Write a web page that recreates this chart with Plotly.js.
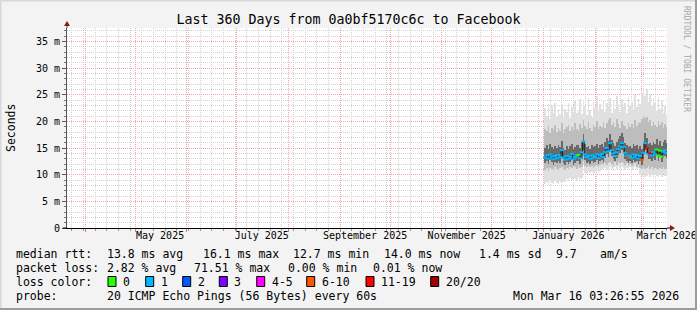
<!DOCTYPE html>
<html><head><meta charset="utf-8">
<script src="https://cdn.plot.ly/plotly-3.0.1.min.js"></script>
<style>html,body{margin:0;padding:0;background:#f3f3f3}#chart{width:697px;height:310px}</style>
</head><body><div id="chart"></div>
<script>
// ---------- data ----------
const firstDay = '2026-01-02';
const rangeStart = '2025-03-21 03:26:55';
const rangeEnd = '2026-03-16 03:26:55';

const median = [
 13.2,13.6,13.0,13.8,13.4,12.9,13.5,13.1,13.7,13.3,14.6,13.2,12.8,
 13.5,13.0,13.4,13.9,12.9,13.3,13.6,13.7,13.1,14.2,
 16.2,
 13.8,13.3,13.5,13.0,13.6,13.2,13.4,13.8,13.1,13.6,
 13.9,13.3,14.2,15.0,14.4,15.9,14.6,14.0,13.5,14.2,14.8,15.3,15.9,15.2,14.1,13.6,13.2,13.5,13.1,13.8,13.4,13.7,13.0,
 13.5,12.8,14.1,15.9,15.0,13.9,14.0,13.6,14.2,13.8,14.7,13.6,14.5,13.4,14.3,14.6,14.1];

const lossClass = [
 '1','1','1','1','1','1','1','1','1','1','1','1','1',
 '1','1','1','1','1','1','1','0','1','1',
 '1',
 '1','1','1','1','1','1','1','1','1','1',
 '1','1','1','1','1','1','1','1','1','1','1','1','1','1','1','1','6-10','1','1','1','1','1','1',
 '1','6-10','1','1','11-19','1','11-19','1','1','1','0','0','0','0','1','1','1'];

const minRtt = [
 8.3,8.6,8.1,8.8,8.4,8.2,8.9,8.5,8.3,8.7,8.4,9.0,8.6,
 9.1,8.9,9.3,9.0,9.4,9.2,8.9,9.5,9.1,9.3,
 12.0,
 10.4,10.2,10.6,10.3,10.5,10.1,10.4,10.6,10.3,10.7,
 11.0,10.8,11.3,10.9,11.2,11.5,11.1,10.7,11.4,11.0,11.6,11.3,11.5,11.2,10.9,11.3,11.0,11.4,10.8,11.1,11.5,10.9,11.2,
 10.0,9.7,10.2,9.5,9.8,10.1,9.6,9.9,9.4,10.0,9.7,9.5,9.9,9.6,10.1,9.8,9.7];

const loBand = [
 10.9,11.2,10.7,11.3,11.0,10.8,11.4,11.1,10.9,11.2,11.5,11.0,10.8,
 11.3,11.1,11.5,11.2,11.6,11.4,11.0,11.7,11.3,11.5,
 12.6,
 11.6,11.4,11.8,11.5,11.7,11.3,11.6,11.9,11.5,11.8,
 12.0,11.8,12.2,11.9,12.1,12.4,12.0,11.7,12.3,11.9,12.4,12.2,12.3,12.1,11.8,12.2,11.7,12.0,11.6,11.9,12.2,11.5,11.8,
 11.2,11.0,11.5,11.1,11.3,11.6,11.0,11.4,10.9,11.3,11.1,10.8,11.2,11.0,11.4,11.1,11.0];

const coreLo = [
 12.2,12.5,12.0,12.7,12.3,11.9,12.4,12.1,12.6,12.2,13.4,12.1,11.8,
 12.4,12.0,12.3,12.8,11.9,12.2,12.5,12.6,12.0,13.0,
 14.6,
 12.7,12.2,12.4,12.0,12.5,12.1,12.3,12.7,12.0,12.5,
 12.8,12.3,13.1,13.8,13.3,14.6,13.5,12.9,12.5,13.1,13.7,14.1,14.7,14.0,13.0,12.6,12.2,12.5,12.1,12.7,12.4,12.6,12.0,
 12.5,11.8,13.0,14.6,13.9,12.9,13.0,12.6,13.1,12.8,13.6,12.6,13.4,12.4,13.2,13.5,13.1];

const coreHi = [
 15.0,15.5,14.9,15.7,15.2,14.8,15.4,15.0,15.6,15.1,16.4,15.0,14.7,
 15.4,14.9,15.3,15.8,14.8,15.2,15.5,15.6,15.0,16.1,
 17.6,
 15.7,15.2,15.4,14.9,15.5,15.1,15.3,15.7,15.0,15.5,
 15.8,15.2,16.1,16.9,16.3,17.7,16.5,15.9,15.4,16.1,16.7,17.2,17.8,17.1,16.0,15.5,15.1,15.4,15.0,15.7,15.3,15.6,14.9,
 15.4,14.8,16.0,17.8,16.9,15.8,15.9,15.5,16.1,15.7,16.6,15.5,16.4,15.3,16.2,16.5,16.0];

const hiBand = [
 18.6,18.1,19.2,17.9,18.8,18.3,19.4,18.0,18.7,18.2,19.6,17.8,18.5,
 18.9,19.3,18.2,19.0,18.4,19.7,18.6,18.1,19.5,18.8,
 20.3,
 19.1,18.5,19.8,18.7,18.2,19.4,18.9,20.1,18.6,19.2,
 19.0,19.9,18.8,19.6,20.2,20.6,19.3,19.8,18.9,20.4,19.5,18.7,20.0,19.4,19.1,18.6,19.7,19.0,19.5,18.8,20.3,19.2,19.9,
 19.6,20.5,21.0,20.7,20.9,19.8,20.2,19.1,19.9,19.4,18.9,20.1,19.3,19.8,18.7,19.5,19.0];

const maxRtt = [
 22.5,21.0,23.2,20.4,22.8,21.6,23.5,20.9,22.1,21.4,23.0,20.6,22.4,
 21.8,23.4,20.7,22.6,21.2,23.8,21.5,22.0,24.1,21.3,
 23.6,
 22.9,21.1,24.3,22.2,20.8,23.7,22.5,24.6,21.9,23.3,
 22.4,24.0,21.7,23.5,22.8,24.4,21.6,23.9,22.3,24.7,23.1,21.8,24.2,22.6,23.4,21.5,24.5,22.9,23.6,21.9,25.0,22.7,24.1,
 23.2,25.4,26.3,24.8,26.0,23.7,25.1,22.8,24.4,23.5,21.9,24.6,22.3,23.8,21.6,22.9,21.2];

const yTickVals = [0,5,10,15,20,25,30,35];
const yTickText = ['0','5 m','10 m','15 m','20 m','25 m','30 m','35 m'];
const xLabelDates = ['2025-05-16','2025-07-16','2025-09-16','2025-11-16','2026-01-16','2026-03-16'];
const xLabelText = ['May 2025','July 2025','September 2025','November 2025','January 2026','March 2026'];

const lossLabels = ['0','1','2','3','4-5','6-10','11-19','20/20'];
const lossColors = ['#26ff00','#00b8ff','#0059ff','#7e00ff','#ff00ff','#ff5500','#ff0000','#a00000'];

const legendRows = [
 ['median rtt:', '13.8 ms avg', '16.1 ms max', '12.7 ms min', '14.0 ms now', '1.4 ms sd', '9.7', 'am/s'],
 ['packet loss:', '2.82 % avg', '71.51 % max', '0.00 % min', '0.01 % now'],
 ['loss color:'],
 ['probe:', '20 ICMP Echo Pings (56 Bytes) every 60s', 'Mon Mar 16 03:26:55 2026']
];

// ---------- layout helpers ----------
const W = 697, H = 310, L = 67, R = 667, T = 28, B = 228;
const px = x => (x - L) / (R - L);
const py = y => (B - y) / (B - T);
const MONO = 'DejaVu Sans Mono';

const dates = [];
{
  const d0 = new Date(firstDay + 'T00:00:00Z');
  for (let i = 0; i < median.length; i++) {
    const d = new Date(d0.getTime() + i * 86400000);
    dates.push(d.toISOString().slice(0, 10));
  }
}
const colorOf = c => lossColors[lossLabels.indexOf(c)];

function band(lo, hi, color) {
  return {type: 'bar', x: dates, base: lo, y: hi.map((v, i) => v - lo[i]),
    width: 86400000, marker: {color: color, line: {width: 0}},
    hoverinfo: 'skip', showlegend: false};
}

const traces = [
  band(minRtt, maxRtt, '#e0e0e0'),
  band(loBand, hiBand, '#bdbdbd'),
  band(coreLo, coreHi, '#6a6a6a'),
  {type: 'scatter', mode: 'lines', x: dates, y: median, line: {color: '#1c1c1c', width: 1, shape: 'hvh'},
   hoverinfo: 'skip', showlegend: false},
  {type: 'scatter', mode: 'markers', x: dates, y: median,
   marker: {symbol: 'line-ew', size: 3, line: {width: 2, color: lossClass.map(colorOf)}},
   hoverinfo: 'skip', showlegend: false},
  {type: 'scatter', mode: 'markers', x: [dates[0]], y: [null], xaxis: 'x2', hoverinfo: 'skip', showlegend: false}
];

const ann = [];
function txt(x, y, t, opts) {
  ann.push(Object.assign({xref: 'paper', yref: 'paper', x: px(x), y: py(y), text: t, showarrow: false,
    xanchor: 'left', yanchor: 'middle', borderpad: 0, borderwidth: 0,
    font: {family: MONO, size: 11.5, color: '#000'}}, opts || {}));
}
const rowY = [254, 268, 282, 296];
const rowX = [
  [16, 107, 203, 293, 384, 479, 556, 600],
  [16, 107, 194, 288, 373],
  [16],
  [16, 107, 513]
];
legendRows.forEach((row, r) => row.forEach((t, k) => txt(rowX[r][k], rowY[r], t)));

const shapes = [];
const boxX = [108, 145.7, 182.7, 219.3, 256.7, 306.7, 366, 430.7];
lossLabels.forEach((lab, k) => {
  shapes.push({type: 'rect', xref: 'paper', yref: 'paper', x0: px(boxX[k]), x1: px(boxX[k] + 8),
    y0: py(286.5), y1: py(276.5), fillcolor: lossColors[k], line: {color: '#000', width: 1}});
  txt(boxX[k] + 15, rowY[2], lab);
});

// y title + watermark
ann.push({xref: 'paper', yref: 'paper', x: px(11), y: py(128), text: 'Seconds', textangle: -90,
  showarrow: false, xanchor: 'center', yanchor: 'middle', font: {family: MONO, size: 11.5, color: '#000'}});
ann.push({xref: 'paper', yref: 'paper', x: px(687), y: py(59), text: 'RRDTOOL / TOBI OETIKER', textangle: 90,
  showarrow: false, xanchor: 'center', yanchor: 'middle', font: {family: MONO, size: 8, color: '#a8a8a8'}});

// axis arrows
shapes.push({type: 'line', xref: 'paper', yref: 'paper', x0: 0, x1: 0, y0: 1, y1: py(24), line: {color: '#555', width: 1}});
shapes.push({type: 'path', xref: 'paper', yref: 'paper',
  path: `M ${px(67)} ${py(21)} L ${px(64)} ${py(26)} L ${px(70)} ${py(26)} Z`, fillcolor: '#8b1a1a', line: {width: 0}});
shapes.push({type: 'line', xref: 'paper', yref: 'paper', x0: 1, x1: px(671), y0: 0, y1: 0, line: {color: '#000', width: 1}});
shapes.push({type: 'line', xref: 'paper', yref: 'paper', x0: px(63), x1: 0, y0: 0, y1: 0, line: {color: '#000', width: 1}});
shapes.push({type: 'path', xref: 'paper', yref: 'paper',
  path: `M ${px(675)} ${py(228)} L ${px(670)} ${py(225)} L ${px(670)} ${py(231)} Z`, fillcolor: '#8b1a1a', line: {width: 0}});
// frame
shapes.push({type: 'rect', xref: 'paper', yref: 'paper', x0: px(0), x1: px(697), y0: py(0), y1: py(1.5), fillcolor: '#d8d8d8', line: {width: 0}});
shapes.push({type: 'rect', xref: 'paper', yref: 'paper', x0: px(0), x1: px(1.5), y0: py(0), y1: py(310), fillcolor: '#d8d8d8', line: {width: 0}});
shapes.push({type: 'rect', xref: 'paper', yref: 'paper', x0: px(695), x1: px(697), y0: py(0), y1: py(310), fillcolor: '#9c9c9c', line: {width: 0}});
shapes.push({type: 'rect', xref: 'paper', yref: 'paper', x0: px(0), x1: px(697), y0: py(308), y1: py(310), fillcolor: '#9c9c9c', line: {width: 0}});

const RED = '#f2a3a3', GRAY = '#d3d3d3', DOT = '1px,1px';
const layout = {
  width: W, height: H,
  margin: {l: L, r: W - R, t: T, b: H - B, pad: 0},
  paper_bgcolor: '#f3f3f3', plot_bgcolor: '#ffffff',
  showlegend: false, barmode: 'overlay', bargap: 0,
  title: {text: 'Last 360 Days from 0a0bf5170c6c to Facebook', x: 0.5, xref: 'container', xanchor: 'center',
    y: 1 - 19 / H, yref: 'container', yanchor: 'middle', font: {family: MONO, size: 13.3, color: '#000'}},
  xaxis: {type: 'date', range: [rangeStart, rangeEnd], fixedrange: true,
    dtick: 'M1', tick0: '2025-04-01', showticklabels: false,
    showgrid: true, gridcolor: RED, griddash: DOT, gridwidth: 1,
    ticks: 'outside', ticklen: 3, tickcolor: '#d08080',
    showline: true, linecolor: '#000', linewidth: 1, zeroline: false,
    minor: {dtick: 604800000, tick0: '2025-03-24', showgrid: true, gridcolor: GRAY, griddash: DOT,
      ticks: 'outside', ticklen: 2, tickcolor: '#999'}},
  xaxis2: {type: 'date', overlaying: 'x', anchor: 'y', side: 'bottom', range: [rangeStart, rangeEnd], fixedrange: true,
    tickmode: 'array', tickvals: xLabelDates, ticktext: xLabelText, ticks: '', showgrid: false,
    showline: false, zeroline: false, tickfont: {family: MONO, size: 10, color: '#000'}},
  yaxis: {range: [0, 37.5], fixedrange: true, tickmode: 'array', tickvals: yTickVals, ticktext: yTickText,
    showgrid: true, gridcolor: RED, griddash: DOT, gridwidth: 1,
    ticks: 'outside', ticklen: 4, tickcolor: '#555',
    showline: true, linecolor: '#555', linewidth: 1, zeroline: false,
    tickfont: {family: MONO, size: 10, color: '#000'},
    minor: {dtick: 1, tick0: 0, showgrid: true, gridcolor: GRAY, griddash: DOT, ticks: 'outside', ticklen: 2, tickcolor: '#777'}},
  annotations: ann,
  shapes: shapes
};

Plotly.newPlot('chart', traces, layout, {staticPlot: true, displayModeBar: false});
</script>
</body></html>
